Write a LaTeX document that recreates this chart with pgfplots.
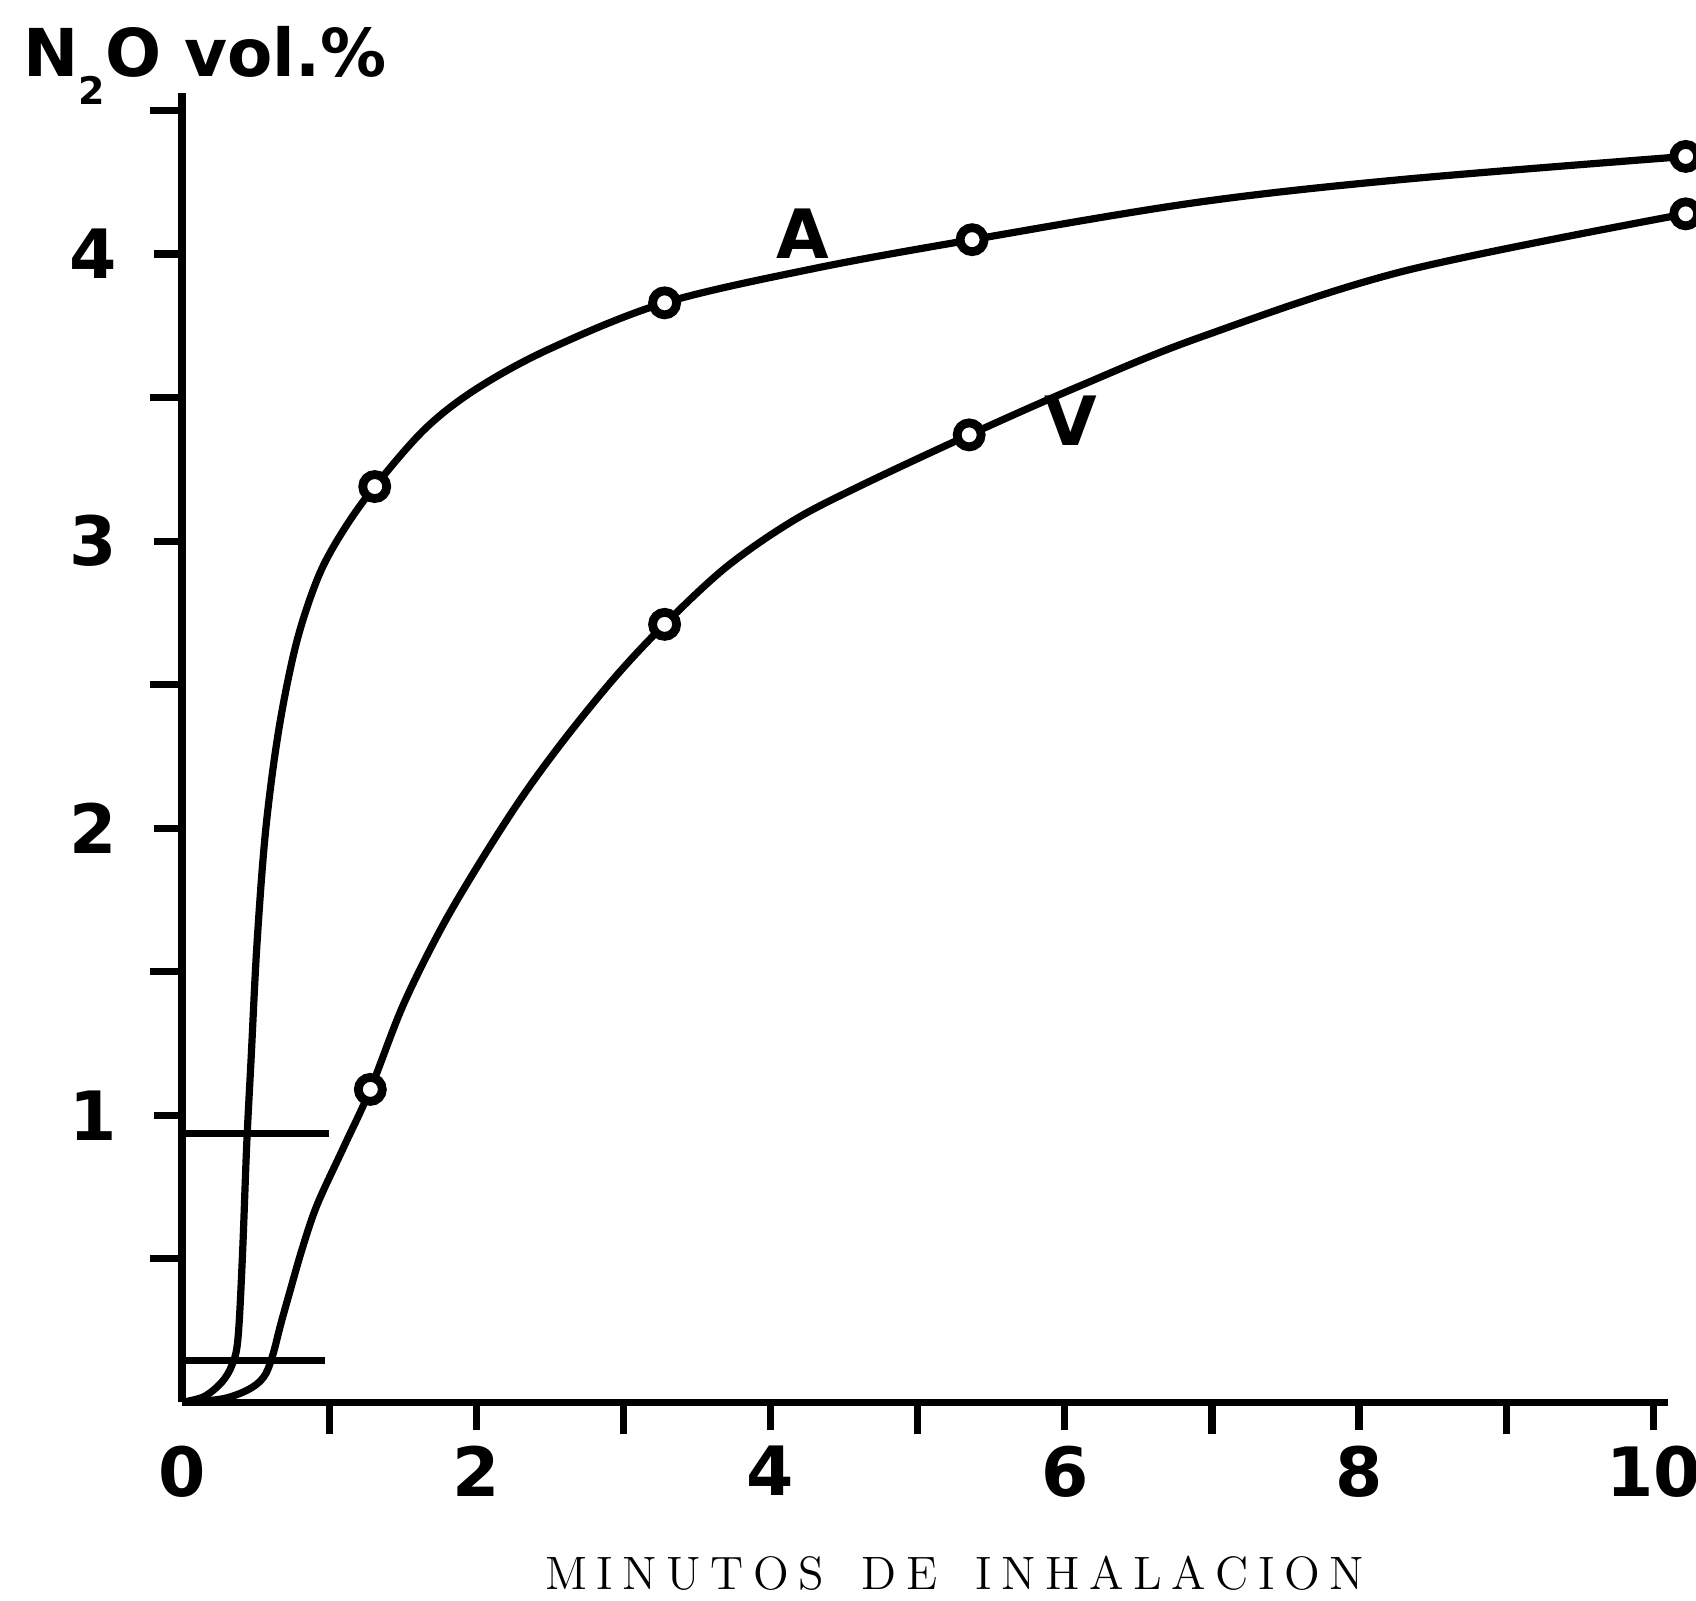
\documentclass[border=0pt]{standalone}
\usepackage{fontspec}
\usepackage{pgfplots}
\pgfplotsset{compat=1.18}
\newfontfamily\lettering{DejaVu Sans}
\newcommand\tickfont{\lettering\bfseries\fontsize{17}{17}\selectfont}
% spread the letters of one word
\makeatletter
\newcommand\spread[1]{\@tfor\@c:=#1\do{\@c\kern2.4pt}}
\makeatother

\begin{document}
\begin{tikzpicture}
\begin{axis}[
  x=36.775pt, y=71.75pt,
  xmin=0, xmax=10.1, ymin=0, ymax=4.56,
  axis x line=bottom, axis y line=left,
  axis line style={-, line width=1.8pt},
  every outer x axis line/.append style={-},
  every outer y axis line/.append style={-},
  clip=false,
  tick align=outside,
  major tick length=7pt, minor tick length=8pt,
  tick style={line width=1.8pt, black},
  xtick={2,4,6,8,10}, xticklabels={2,4,6,8,10},
  minor xtick={1,3,5,7,9},
  ytick={1,2,3,4}, yticklabels={1,2,3,4},
  minor ytick={0.5,1.5,2.5,3.5,4.5},
  tick label style={font=\tickfont, inner sep=1pt},
  xticklabel style={yshift=-2.75pt},
  yticklabel style={xshift=-8pt},
]
% curve A (arterial)
\addplot[line width=1.8pt, smooth, tension=0.55] coordinates {
  (0,0)(0.15,0.02)(0.27,0.07)(0.34,0.13)(0.38,0.22)(0.41,0.5)(0.44,0.9)
  (0.47,1.2)(0.51,1.6)(0.57,2.0)(0.66,2.35)(0.78,2.65)(0.93,2.88)(1.1,3.04)
  (1.31,3.19)(1.65,3.39)(2.0,3.53)(2.5,3.67)(3.28,3.83)
  (4.3,3.95)(5.37,4.05)(6.9,4.18)(8.3,4.26)(10.22,4.34)
};
% curve V (venous)
\addplot[line width=1.8pt, smooth, tension=0.55] coordinates {
  (0,0)(0.25,0.01)(0.39,0.03)(0.5,0.06)(0.57,0.1)(0.62,0.17)(0.67,0.27)
  (0.73,0.38)(0.82,0.54)(0.92,0.69)(1.1,0.89)(1.28,1.09)(1.5,1.38)(1.75,1.64)
  (2.0,1.86)(2.3,2.1)(2.6,2.31)(2.95,2.53)(3.28,2.71)(3.7,2.91)(4.15,3.07)
  (4.6,3.19)(5.35,3.37)(6.1,3.54)(6.92,3.71)(8.3,3.94)(10.22,4.14)
};
% guide lines
\addplot[line width=1.6pt] coordinates {(0,0.937)(1.0,0.937)};
\addplot[line width=1.6pt] coordinates {(0,0.146)(0.97,0.146)};
% measured points
\addplot[only marks, mark=*, mark size=3pt,
  mark options={fill=white, draw=black, line width=2.2pt}] coordinates {
  (1.31,3.19)(3.28,3.83)(5.37,4.05)(10.22,4.34)
};
\addplot[only marks, mark=*, mark size=3pt,
  mark options={fill=white, draw=black, line width=2.2pt}] coordinates {
  (1.28,1.09)(3.28,2.71)(5.35,3.37)(10.22,4.14)
};
\node[font=\tickfont] at (axis cs:4.22,4.07) {A};
\node[font=\tickfont] at (axis cs:6.04,3.42) {V};
\node[font=\tickfont, anchor=north, inner sep=1pt, yshift=-9.75pt] at (axis cs:0,0) {0};
\node[anchor=base west, inner sep=0pt, font=\lettering\bfseries\fontsize{16.5}{17}\selectfont]
  at (axis cs:-1.081,4.617) {N\raisebox{-7pt}{\fontsize{9.5}{10}\selectfont 2}O vol.\%};
\node[font=\fontsize{11.7}{12}\selectfont] at (axis cs:5.25,-0.596)
  {\spread{MINUTOS}\kern7pt\spread{DE}\kern7pt\spread{INHALACIO}N};
\coordinate (bbBL) at (axis cs:-1.237,-0.69);
\coordinate (bbTR) at (axis cs:10.29,4.885);
\end{axis}
\pgfresetboundingbox
\path[use as bounding box] (bbBL) rectangle (bbTR);
\end{tikzpicture}
\end{document}
